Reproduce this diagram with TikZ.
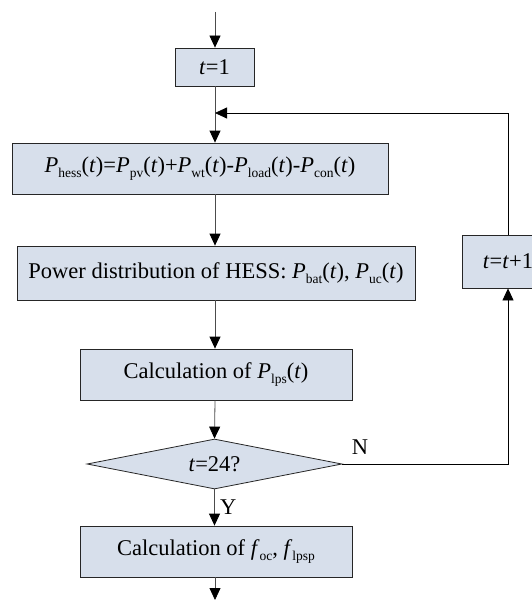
\documentclass[tikz,border=0pt]{standalone}
\usepackage{fontspec}
\setmainfont{Liberation Serif}
\usepackage{tikz}
\usetikzlibrary{arrows.meta,shapes.geometric}
\definecolor{boxfill}{RGB}{215,223,235}
\newcommand{\lowsub}[1]{\raisebox{-0.22em}{\fontsize{13.5}{14}\selectfont #1}}
\newcommand{\pvar}[1]{\textit{P}\lowsub{#1}(\textit{t})}
\tikzset{
  procbox/.style = {draw=black!85,fill=boxfill,line width=0.8pt,inner sep=0pt},
  decbox/.style  = {diamond,draw=black!85,fill=boxfill,line width=0.8pt,inner sep=0pt,aspect=5},
  flowarr/.style = {-{Triangle[length=12pt,width=11pt,color=black]},black!70,line width=0.8pt},
  flowline/.style = {black!70,line width=0.8pt}
}

\begin{document}
\begin{tikzpicture}[x=1pt,y=-1pt,font=\fontsize{22.5}{27}\selectfont]
  \useasboundingbox (0,0) rectangle (532,610);
  \coordinate (start) at (215,12);
  \coordinate (join) at (215,113);
  \coordinate (finish) at (215,600);
  \node[procbox,minimum width=79pt,minimum height=38pt] (tone) at (214.5,67) {\textit{t}=1};
  \node[procbox,minimum width=376pt,minimum height=51pt] (hess) at (200,168.5)
    {\pvar{hess}=\pvar{pv}+\pvar{wt}-\pvar{load}-\pvar{con}};
  \node[procbox,minimum width=398pt,minimum height=54pt] (dist) at (216,273)
    {Power distribution of HESS: \pvar{bat}, \pvar{uc}};
  \node[procbox,minimum width=272pt,minimum height=51pt] (lps) at (216,374.5)
    {Calculation of \pvar{lps}};
  \node[decbox,minimum width=255pt,minimum height=50pt] (dec) at (214.5,464) {\textit{t}=24?};
  \node[procbox,minimum width=272pt,minimum height=51pt] (fcal) at (216,551.5)
    {Calculation of \textit{f}\lowsub{oc}, \textit{f}\lowsub{lpsp}};
  \node[procbox,minimum width=92pt,minimum height=53pt] (inc) at (508,261.5) {\textit{t}=\textit{t}+1};
  \draw[flowarr] (start) -- (start |- tone.north);
  \draw[flowline] (join |- tone.south) -- (join);
  \draw[flowarr] (join) -- (join |- hess.north);
  \draw[flowarr] (join |- hess.south) -- (join |- dist.north);
  \draw[flowarr] (join |- dist.south) -- (join |- lps.north);
  \draw[flowarr] (join |- lps.south) -- (dec.north);
  \draw[flowarr] (dec.south) -- (dec.south |- fcal.north) node[midway,right,xshift=2pt,black] (yes) {Y};
  \draw[flowarr] (join |- fcal.south) -- (finish);
  \draw[flowarr,black] (dec.east) -| (inc.south);
  \draw[flowarr,black] (inc.north) |- (join);
  \node (no) at (360,447) {N};
\end{tikzpicture}
\end{document}
